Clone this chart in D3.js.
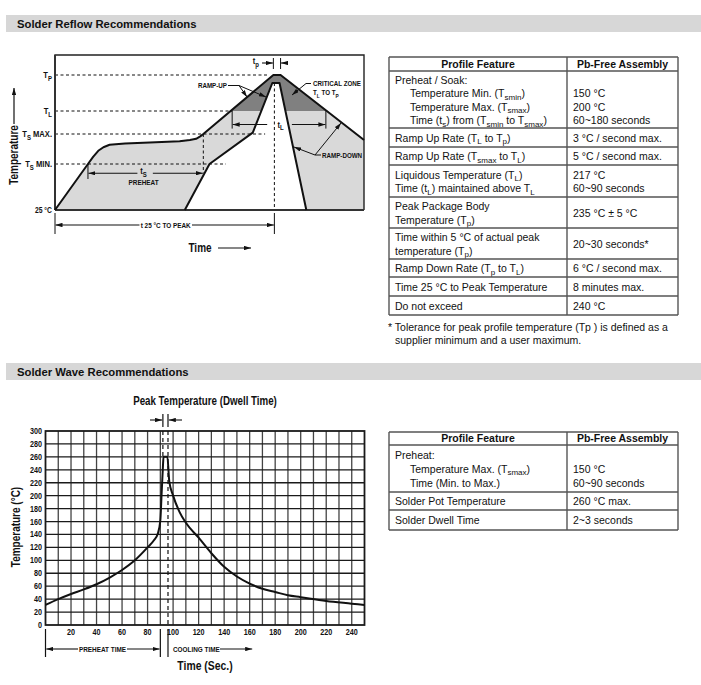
<!DOCTYPE html>
<html><head><meta charset="utf-8">
<script src="https://cdn.jsdelivr.net/npm/d3@7"></script>
<style>
body{margin:0;background:#fff}
svg{display:block}
.tbl{font-family:"Liberation Sans",Arial,sans-serif;font-size:10.5px;fill:#111}
.ttl{font-family:"Liberation Sans",Arial,sans-serif;font-size:11.3px;font-weight:bold;fill:#111}
</style></head><body>
<svg id="c" width="701" height="685"></svg>
<script>
// ---------------- DATA ----------------
const sectionTitles = ["Solder Reflow Recommendations", "Solder Wave Recommendations"];

// Reflow schematic (relative time in s, temperature in °C)
const reflowLevelNames = ["25 °C", "T_{S} MIN.", "T_{S} MAX.", "T_{L}", "T_{P}"];
const reflowLevelTemps = [25, 150, 200, 217, 235];
const reflowDashEndTime = [null, 166, 204, 172, 206];
const reflowOuterTime = [0, 32, 37, 42, 47, 53, 68, 92, 121, 131, 137, 141, 144, 212, 219, 300];
const reflowOuterTemp = [25, 150, 162, 172, 178, 182, 184, 186, 188, 190, 192, 196, 200, 235, 235, 190];
const reflowInnerTime = [126, 150, 192, 211, 218, 244];
const reflowInnerTemp = [25, 150, 201, 231, 231, 25];
const reflowMarks = {tsStart: 32, tsEnd: 144, tlStart: 172, tlEnd: 263, peak: 213, tpStart: 212, tpEnd: 219};

// Wave soldering profile
const waveTime = [0, 10, 20, 30, 40, 50, 60, 70, 80, 85, 88, 90, 91, 92, 92.5, 95.5, 97, 100, 105, 110, 120, 130, 140, 150, 160, 170, 180, 190, 200, 220, 240, 250];
const waveTemp = [31, 40, 48, 55, 63, 73, 85, 100, 120, 131, 141, 162, 203, 244, 260, 260, 222, 200, 175, 158, 135, 111, 90, 75, 64, 56, 51, 46, 43, 37, 33, 31];
const waveYTicks = d3.range(0, 301, 20);
const waveXTicks = d3.range(20, 241, 20);
const waveDwell = [92, 96];
const wavePreheatEnd = 90;
const waveCoolingArrowEnd = 162;

// Tables
const table1Header = ["Profile Feature", "Pb-Free Assembly"];
const table1Features = [
  ["Preheat / Soak:", "\tTemperature Min. (T_{smin})", "\tTemperature Max. (T_{smax})", "\tTime (t_{s}) from (T_{smin} to T_{smax})"],
  ["Ramp Up Rate (T_{L} to T_{p})"],
  ["Ramp Up Rate (T_{smax} to T_{L})"],
  ["Liquidous Temperature (T_{L})", "Time (t_{L}) maintained above T_{L}"],
  ["Peak Package Body", "Temperature (T_{p})"],
  ["Time within 5 °C of actual peak", "temperature (T_{p})"],
  ["Ramp Down Rate (T_{p} to T_{L})"],
  ["Time 25 °C to Peak Temperature"],
  ["Do not exceed"]
];
const table1Values = [
  ["", "150 °C", "200 °C", "60~180 seconds"],
  ["3 °C / second max."],
  ["5 °C / second max."],
  ["217 °C", "60~90 seconds"],
  ["235 °C ± 5 °C"],
  ["20~30 seconds*"],
  ["6 °C / second max."],
  ["8 minutes max."],
  ["240 °C"]
];
const table1Note = ["* Tolerance for peak profile temperature (Tp ) is defined as a", "supplier minimum and a user maximum."];
const table2Header = ["Profile Feature", "Pb-Free Assembly"];
const table2Features = [
  ["Preheat:", "\tTemperature Max. (T_{smax})", "\tTime (Min. to Max.)"],
  ["Solder Pot Temperature"],
  ["Solder Dwell Time"]
];
const table2Values = [
  ["", "150 °C", "60~90 seconds"],
  ["260 °C max."],
  ["2~3 seconds"]
];

// ---------------- HELPERS ----------------
const svg = d3.select("#c");
const defs = svg.append("defs");
defs.append("marker").attr("id", "arr").attr("viewBox", "0 0 8 5").attr("refX", 8).attr("refY", 2.5)
  .attr("markerWidth", 7).attr("markerHeight", 4.4).attr("markerUnits", "userSpaceOnUse").attr("orient", "auto")
  .append("path").attr("d", "M0,0L8,2.5L0,5Z").attr("fill", "#111");

function rich(sel, str, subSize) {
  const parts = str.split(/_\{([^}]*)\}/);
  let shift = 0;
  parts.forEach((p, i) => {
    if (p === "") return;
    const ts = sel.append("tspan").text(p);
    if (i % 2 === 1) {
      ts.attr("dy", 2.5 - shift).attr("font-size", subSize);
      shift = 2.5;
    } else if (shift) {
      ts.attr("dy", -shift);
      shift = 0;
    }
  });
  return sel;
}
// condensed bold label (Helvetica Condensed look)
function ctext(g, x, y, str, size, anchor, rot, subSize) {
  const t = g.append("text")
    .attr("transform", `translate(${x},${y})` + (rot ? ` rotate(${rot})` : "") + " scale(0.8,1)")
    .attr("font-family", "'Liberation Sans', Arial, sans-serif").attr("font-weight", "bold")
    .attr("font-size", size).attr("text-anchor", anchor || "start").attr("fill", "#111");
  rich(t, str, subSize || size * 0.78);
  return t;
}
function line(g, x1, y1, x2, y2, opts = {}) {
  const l = g.append("line").attr("x1", x1).attr("y1", y1).attr("x2", x2).attr("y2", y2)
    .attr("stroke", opts.stroke || "#111").attr("stroke-width", opts.w || 1);
  if (opts.dash) l.attr("stroke-dasharray", opts.dash);
  if (opts.arrow) l.attr("marker-end", "url(#arr)");
  return l;
}

// ---------------- SECTION BARS ----------------
const barY = [15, 363];
sectionTitles.forEach((t, i) => {
  svg.append("rect").attr("x", 6).attr("y", barY[i]).attr("width", 695).attr("height", 17).attr("fill", "#d7d7d7");
  svg.append("text").attr("class", "ttl").attr("x", 17).attr("y", barY[i] + 12.5).text(t);
});

// ---------------- REFLOW SCHEMATIC ----------------
const rg = svg.append("g");
const rx = d3.scaleLinear().domain([0, 300]).range([55, 364]);
const ry = d3.scaleLinear().domain([25, 150, 200, 217, 235, 245]).range([210, 164, 134, 111, 75, 55]);

const outerPts = reflowOuterTime.map((t, i) => [rx(t), ry(reflowOuterTemp[i])]);
const innerPts = reflowInnerTime.map((t, i) => [rx(t), ry(reflowInnerTemp[i])]);
const bandPts = outerPts.concat([[rx(300), ry(25)]], innerPts.slice().reverse());
const lineGen = d3.line();

rg.append("clipPath").attr("id", "crit").append("rect")
  .attr("x", rx(0)).attr("y", ry(245)).attr("width", rx(300) - rx(0)).attr("height", ry(217) - ry(245));
rg.append("path").attr("d", lineGen(bandPts) + "Z").attr("fill", "#d9d9d9");
rg.append("path").attr("d", lineGen(bandPts) + "Z").attr("fill", "#808080").attr("clip-path", "url(#crit)");

// dashed level lines
reflowLevelTemps.forEach((v, i) => {
  if (reflowDashEndTime[i] !== null)
    line(rg, rx(0), ry(v), rx(reflowDashEndTime[i]), ry(v), {dash: "3,2.5", w: 1});
});
// vertical dashed lines
line(rg, rx(reflowMarks.tsEnd), ry(200), rx(reflowMarks.tsEnd), ry(125), {dash: "3,2.5"});
line(rg, rx(reflowMarks.peak), ry(231), rx(reflowMarks.peak), ry(25), {dash: "3,2.5"});

// frame
rg.append("path").attr("d", `M${rx(0)},${ry(25)}V${ry(245)}H${rx(300)}V${ry(25)}`)
  .attr("fill", "none").attr("stroke", "#222").attr("stroke-width", 1.4);
line(rg, rx(0), ry(25), rx(300), ry(25), {w: 2.2, stroke: "#333"});
line(rg, rx(0), ry(25), rx(0), ry(245), {w: 2, stroke: "#333"});

// profile lines
rg.append("path").attr("d", lineGen(outerPts)).attr("fill", "none").attr("stroke", "#111").attr("stroke-width", 2).attr("stroke-linejoin", "round");
rg.append("path").attr("d", lineGen(innerPts)).attr("fill", "none").attr("stroke", "#111").attr("stroke-width", 2).attr("stroke-linejoin", "round");

// level labels
reflowLevelTemps.forEach((v, i) => {
  ctext(rg, 52, ry(v) + 3.2, reflowLevelNames[i], i === 0 ? 8.5 : 9.5, "end", 0, 7.5);
});

// ts arrow
const tsY = ry(125);
line(rg, rx(reflowMarks.tsStart), ry(150), rx(reflowMarks.tsStart), ry(150) + 15, {w: 1});
line(rg, rx(80), tsY, rx(reflowMarks.tsStart) + 0.5, tsY, {arrow: true, w: 1.1});
line(rg, rx(95), tsY, rx(reflowMarks.tsEnd) - 0.5, tsY, {arrow: true, w: 1.1});
ctext(rg, rx(86), tsY + 1, "t_{S}", 9.5, "middle", 0, 7.5);
ctext(rg, rx(86), tsY + 12, "PREHEAT", 8, "middle");

// tL arrow
const tlY = ry(207);
line(rg, rx(reflowMarks.tlStart), ry(217), rx(reflowMarks.tlStart), ry(204), {w: 1});
line(rg, rx(reflowMarks.tlEnd), ry(217), rx(reflowMarks.tlEnd), ry(204), {w: 1});
line(rg, rx(206), tlY, rx(reflowMarks.tlStart) + 0.5, tlY, {arrow: true, w: 1.1});
line(rg, rx(230), tlY, rx(reflowMarks.tlEnd) - 0.5, tlY, {arrow: true, w: 1.1});
ctext(rg, rx(219), tlY + 3, "t_{L}", 9.5, "middle", 0, 7.5);

// tp markers
const tpY = ry(241);
line(rg, rx(reflowMarks.tpStart), tpY - 5, rx(reflowMarks.tpStart), tpY + 6);
line(rg, rx(reflowMarks.tpEnd), tpY - 5, rx(reflowMarks.tpEnd), tpY + 6);
line(rg, rx(201), tpY, rx(reflowMarks.tpStart) - 0.5, tpY, {arrow: true, w: 1.1});
line(rg, rx(226), tpY, rx(reflowMarks.tpEnd) + 0.5, tpY, {arrow: true, w: 1.1});
ctext(rg, rx(195), tpY + 1, "t_{p}", 9.5, "middle", 0, 7.5);

// t 25°C to peak
const tpkY = 225;
line(rg, rx(0), ry(25) + 3, rx(0), 234, {w: 1});
line(rg, rx(reflowMarks.peak), ry(25) + 3, rx(reflowMarks.peak), 234, {w: 1});
line(rg, rx(82), tpkY, rx(0) + 0.5, tpkY, {arrow: true, w: 1.1});
line(rg, rx(133), tpkY, rx(reflowMarks.peak) - 0.5, tpkY, {arrow: true, w: 1.1});
ctext(rg, rx(107.5), tpkY + 2.8, "t  25 °C TO PEAK", 8, "middle");

// callouts
ctext(rg, 227, 88, "RAMP-UP", 7.8, "end");
line(rg, 228, 85.5, 239, 85.5);
line(rg, 239, 85.5, 247, 97, {arrow: true});
line(rg, 239, 85.5, 266, 97, {arrow: true});
ctext(rg, 313, 86, "CRITICAL ZONE", 7.8);
ctext(rg, 313, 95, "T_{L}  TO  T_{P}", 7.8, "start", 0, 6);
rg.append("path").attr("d", "M311,83.5H306L292,95").attr("fill", "none").attr("stroke", "#111").attr("stroke-width", 1).attr("marker-end", "url(#arr)");
ctext(rg, 322, 158, "RAMP-DOWN", 7.8);
line(rg, 321, 155, 315, 155);
line(rg, 315, 155, 341, 123, {arrow: true});
line(rg, 315, 155, 294, 147, {arrow: true});

// axis titles
ctext(rg, 18, 155, "Temperature", 12.5, "middle", -90);
line(rg, 14, 124, 14, 88, {arrow: true, w: 1.2});
ctext(rg, 200, 252, "Time", 12.5, "middle");
line(rg, 218, 248, 251, 248, {arrow: true, w: 1.2});

// ---------------- WAVE CHART ----------------
const wg = svg.append("g");
const wx = d3.scaleLinear().domain([0, 250]).range([45.5, 364.5]);
const wy = d3.scaleLinear().domain([0, 300]).range([625, 431]);

// grid
d3.range(10, 250, 10).forEach(t => line(wg, wx(t), wy(0), wx(t), wy(300), {stroke: "#444", w: 1.3}));
waveYTicks.slice(1, -1).forEach(v => line(wg, wx(0), wy(v), wx(250), wy(v), {stroke: "#1a1a1a", w: 1.3}));
wg.append("rect").attr("x", wx(0)).attr("y", wy(300)).attr("width", wx(250) - wx(0)).attr("height", wy(0) - wy(300))
  .attr("fill", "none").attr("stroke", "#1a1a1a").attr("stroke-width", 1.8);

// dwell dashed lines
line(wg, wx(waveDwell[0]), wy(300), wx(waveDwell[0]), wy(260), {dash: "4,3", w: 1.2});
line(wg, wx(waveDwell[1]), wy(300), wx(waveDwell[1]), wy(0), {dash: "4,3", w: 1.2});

// curve
wg.append("path").datum(waveTime.map((t, i) => [t, waveTemp[i]]))
  .attr("d", d3.line().x(d => wx(d[0])).y(d => wy(d[1])).curve(d3.curveMonotoneX))
  .attr("fill", "none").attr("stroke", "#111").attr("stroke-width", 2);

// axes labels
waveYTicks.forEach(v => ctext(wg, 42, wy(v) + 3, String(v), 9, "end"));
waveXTicks.forEach(v => ctext(wg, wx(v), 635, String(v), 9, "middle"));

ctext(wg, 205, 404.5, "Peak Temperature (Dwell Time)", 12.2, "middle");
// dwell arrows
line(wg, wx(waveDwell[0]), 414, wx(waveDwell[0]), 427, {w: 1.2});
line(wg, wx(waveDwell[1]), 414, wx(waveDwell[1]), 427, {w: 1.2});
line(wg, 150, 420, wx(waveDwell[0]) - 0.8, 420, {arrow: true, w: 1.1});
line(wg, 182, 420, wx(waveDwell[1]) + 0.8, 420, {arrow: true, w: 1.1});

// bottom brackets
line(wg, wx(0), 629, wx(0), 657, {w: 1.2});
line(wg, wx(wavePreheatEnd), 629, wx(wavePreheatEnd), 657, {w: 1.2});
line(wg, wx(waveDwell[1]), 629, wx(waveDwell[1]), 657, {w: 1.2});
line(wg, 78, 649, wx(0) + 0.8, 649, {arrow: true, w: 1.1});
line(wg, 127, 649, wx(wavePreheatEnd) - 0.8, 649, {arrow: true, w: 1.1});
ctext(wg, 102.5, 651.8, "PREHEAT TIME", 8, "middle");
ctext(wg, 173, 651.8, "COOLING TIME", 8);
line(wg, 220, 649, wx(waveCoolingArrowEnd), 649, {arrow: true, w: 1.1});
ctext(wg, 205, 669.5, "Time (Sec.)", 13, "middle");
ctext(wg, 19.5, 527, "Temperature (°C)", 12.5, "middle", -90);

// ---------------- TABLES ----------------
function drawTable(rowBounds, header, feats, vals, lh) {
  const g = svg.append("g");
  const xL = 389, xM = 567, xR = 678;
  g.append("text").attr("class", "tbl").attr("font-weight", "bold").attr("x", (xL + xM) / 2).attr("y", (rowBounds[0] + rowBounds[1]) / 2 + 3.8).attr("text-anchor", "middle").text(header[0]);
  g.append("text").attr("class", "tbl").attr("font-weight", "bold").attr("x", (xM + xR) / 2).attr("y", (rowBounds[0] + rowBounds[1]) / 2 + 3.8).attr("text-anchor", "middle").text(header[1]);
  const draw = (arr, xBase, cy) => {
    const n = arr.length;
    arr.forEach((s, k) => {
      if (!s) return;
      const indent = s.startsWith("\t");
      const t = g.append("text").attr("class", "tbl").attr("x", xBase + (indent ? 15 : 0))
        .attr("y", cy + (k - (n - 1) / 2) * lh + 3.8);
      rich(t, indent ? s.slice(1) : s, 8);
    });
  };
  feats.forEach((lines, r) => {
    const cy = (rowBounds[r + 1] + rowBounds[r + 2]) / 2 + 0.6;
    draw(lines, 395, cy);
    draw(vals[r], 573, cy);
  });
  rowBounds.forEach(y => line(g, xL, y, xR, y, {stroke: "#555", w: 1.4}));
  [xL, xM, xR].forEach(x => line(g, x, rowBounds[0], x, rowBounds[rowBounds.length - 1], {stroke: "#555", w: 1.4}));
  return g;
}
drawTable([57, 71, 128, 147, 165, 197, 228, 259, 277, 296, 315], table1Header, table1Features, table1Values, 13.5);
drawTable([432, 445, 492, 510, 530], table2Header, table2Features, table2Values, 14);
table1Note.forEach((s, i) => svg.append("text").attr("class", "tbl").attr("x", i === 0 ? 388 : 395).attr("y", 331 + i * 13).text(s));
</script>
</body></html>
